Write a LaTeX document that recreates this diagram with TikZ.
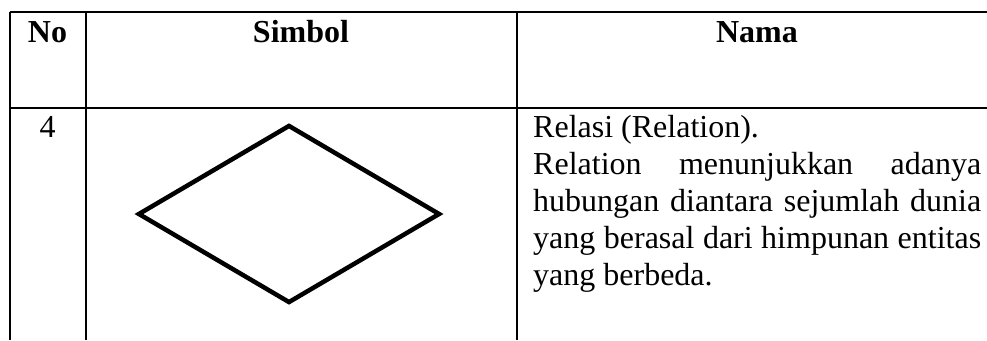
\documentclass[tikz,border=0pt]{standalone}
\usepackage{fontspec}
\setmainfont{Liberation Serif}
\usetikzlibrary{shapes}
\tikzset{rule/.style={line width=2pt},
 head/.style={font=\fontsize{32}{37}\selectfont\bfseries, anchor=base, inner sep=0pt},
 cell/.style={font=\fontsize{32}{37}\selectfont, anchor=base, inner sep=0pt},
 relbox/.style={draw, diamond, line width=4.5pt, minimum width=302pt, minimum height=178pt, inner sep=0pt},
 }

\begin{document}
\begin{tikzpicture}[x=1pt,y=-1pt]
        \useasboundingbox (0,0) rectangle (987,340);
        \draw[rule] (10,12) -- (987,12);
        \draw[rule] (10,108) -- (987,108);
        \draw[rule] (10,12) -- (10,340);
        \draw[rule] (85.5,12) -- (85.5,340);
        \draw[rule] (517,12) -- (517,340);
        \node[head] (no) at (47.5,42) {No};
        \node[head] (simbol) at (301,42) {Simbol};
        \node[head] (nama) at (757,42) {Nama};
        \node[cell] (nomor) at (47.5,137) {4};
        \node[relbox] (relasi) at (289,214) {};
        \node[cell, anchor=base west, text width=448pt, align=justify] (ket) at (533,137)
          {\baselineskip=37pt\noindent Relasi (Relation).\newline
           Relation menunjukkan adanya\linebreak
           hubungan diantara sejumlah dunia\linebreak
           yang berasal dari himpunan entitas\linebreak
           yang berbeda.\par};
    \end{tikzpicture}
\end{document}
